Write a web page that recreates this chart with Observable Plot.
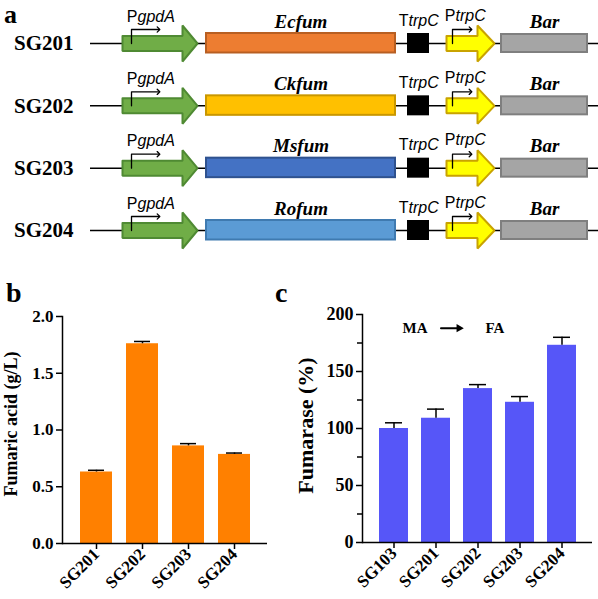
<!DOCTYPE html>
<html><head><meta charset="utf-8">
<script src="https://cdn.jsdelivr.net/npm/d3@7"></script>
<script src="https://cdn.jsdelivr.net/npm/@observablehq/plot@0.6"></script>
<style>
body{margin:0;background:#fff}
#fig{position:relative;width:598px;height:599px;overflow:hidden;background:#fff}
.panel{position:absolute}
.letter{position:absolute;font:bold 28px/1 "Liberation Serif",serif;color:#000}
</style></head><body>
<div id="fig">
<div class="panel" id="pa" style="left:0;top:0;width:598px"></div>
<div class="panel" id="pb" style="left:0;top:260px;width:280px"></div>
<div class="panel" id="pc" style="left:270px;top:260px;width:328px"></div>
<div class="letter" style="left:4px;top:2px;font-size:26px">a</div>
<div class="letter" style="left:6px;top:279px">b</div>
<div class="letter" style="left:275px;top:279px">c</div>
</div>
<script>
// ---------- Panel a: expression cassettes ----------
const strains = ["SG201", "SG202", "SG203", "SG204"];
const fumGenes = ["Ecfum", "Ckfum", "Msfum", "Rofum"];
const constructLength = 508;               // schematic units
const promoterGpdA = {label: "gpdA", start: 32, end: 107};
const fumORF = {start: 116, end: 305};
const terminatorTrpC = {label: "trpC", start: 317, end: 339};
const promoterTrpC = {label: "trpC", start: 356, end: 404};
const markerBar = {label: "Bar", start: 411, end: 497};

// ---------- Panel b: fumaric acid titre ----------
const strainsB = ["SG201", "SG202", "SG203", "SG204"];
const faMean = [0.63, 1.76, 0.86, 0.785];
const faErr = [0.015, 0.02, 0.02, 0.012];
const faTicks = [0, 0.5, 1.0, 1.5, 2.0];

// ---------- Panel c: fumarase activity ----------
const strainsC = ["SG103", "SG201", "SG202", "SG203", "SG204"];
const fumMean = [100, 109, 135, 123, 173];
const fumErr = [5, 8, 3.5, 5, 7];
const fumTicks = [0, 50, 100, 150, 200];
const fumMinorTicks = [25, 75, 125, 175];

// ===== styles =====
const geneFill = ["#ED7D31", "#FFC000", "#4472C4", "#5B9BD5"];
const geneStroke = ["#B85F22", "#C99700", "#2F528F", "#3F7AB0"];
const serif = "Liberation Serif, Times New Roman, serif";
const sans = "Liberation Sans, Arial, sans-serif";

// ===== Panel a =====
{
  const rowPx = (230 - 43) / 3;
  const u = px => px / rowPx;           // pixel offset -> row units
  const rows = strains.map((s, i) => ({strain: s, gene: fumGenes[i], row: i}));
  const arrowPoly = (p, headLen, bh, hh) => rows.flatMap(r => {
    const b = p.end - headLen;
    return [[p.start, -bh], [b, -bh], [b, -hh], [p.end, 0], [b, hh], [b, bh], [p.start, bh], [p.start, -bh]]
      .map(([x, d]) => ({x, y: r.row + u(d), row: r.row}));
  });
  const bent = (x0, x1) => rows.flatMap(r => [
    {x: x0, y: r.row, row: r.row}, {x: x0, y: r.row + u(-14), row: r.row}, {x: x1, y: r.row + u(-14), row: r.row}
  ]);
  const lbl = {fontFamily: sans, fontSize: 16, lineAnchor: "bottom"};
  const marks = [
    Plot.ruleY(rows, {y: "row", x1: 0, x2: constructLength, stroke: "black", strokeWidth: 1.5}),
    Plot.line(arrowPoly(promoterGpdA, 15, 7.5, 18), {x: "x", y: "y", z: "row", fill: "#70AD47", stroke: "#4F8A33", strokeWidth: 2, strokeLinejoin: "miter"}),
    Plot.line(arrowPoly(promoterTrpC, 17, 7.5, 18), {x: "x", y: "y", z: "row", fill: "#FFFF00", stroke: "#C9A300", strokeWidth: 2, strokeLinejoin: "miter"}),
    ...rows.map((r, i) => Plot.rect([r], {x1: () => fumORF.start, x2: () => fumORF.end, y1: d => d.row - u(10), y2: d => d.row + u(9.5), fill: geneFill[i], stroke: geneStroke[i], strokeWidth: 2})),
    Plot.rect(rows, {x1: () => terminatorTrpC.start, x2: () => terminatorTrpC.end, y1: d => d.row - u(10), y2: d => d.row + u(10), fill: "black"}),
    Plot.rect(rows, {x1: () => markerBar.start, x2: () => markerBar.end, y1: d => d.row - u(9), y2: d => d.row + u(9), fill: "#A5A5A5", stroke: "#7F7F7F", strokeWidth: 2}),
    Plot.line(bent(promoterGpdA.start + 9, promoterGpdA.start + 36), {x: "x", y: "y", z: "row", stroke: "black", strokeWidth: 1.3, markerEnd: "arrow"}),
    Plot.line(bent(promoterTrpC.start + 6, promoterTrpC.start + 24), {x: "x", y: "y", z: "row", stroke: "black", strokeWidth: 1.3, markerEnd: "arrow"}),
    // strain names
    Plot.text(rows, {x: () => 0, y: "row", text: "strain", dx: -17, textAnchor: "end", lineAnchor: "middle", fontFamily: serif, fontWeight: "bold", fontSize: 21}),
    // gene names
    Plot.text(rows, {x: () => (fumORF.start + fumORF.end) / 2, y: "row", text: "gene", dy: -16, lineAnchor: "bottom", fontFamily: serif, fontWeight: "bold", fontStyle: "italic", fontSize: 19}),
    Plot.text(rows, {x: () => (markerBar.start + markerBar.end) / 2, y: "row", text: () => markerBar.label, dy: -16, lineAnchor: "bottom", fontFamily: serif, fontWeight: "bold", fontStyle: "italic", fontSize: 19}),
    // PgpdA
    Plot.text(rows, {...lbl, x: () => promoterGpdA.start + 15, y: "row", text: () => "P", dy: -22, textAnchor: "end"}),
    Plot.text(rows, {...lbl, x: () => promoterGpdA.start + 15, y: "row", text: () => promoterGpdA.label, dy: -22, textAnchor: "start", fontStyle: "italic"}),
    // TtrpC
    Plot.text(rows, {...lbl, x: () => terminatorTrpC.start + 1, y: "row", text: () => "T", dy: -18, textAnchor: "end"}),
    Plot.text(rows, {...lbl, x: () => terminatorTrpC.start + 1, y: "row", text: () => terminatorTrpC.label, dy: -18, textAnchor: "start", fontStyle: "italic"}),
    // PtrpC
    Plot.text(rows, {...lbl, x: () => promoterTrpC.start + 9, y: "row", text: () => "P", dy: -23, textAnchor: "end"}),
    Plot.text(rows, {...lbl, x: () => promoterTrpC.start + 9, y: "row", text: () => promoterTrpC.label, dy: -23, textAnchor: "start", fontStyle: "italic"})
  ];
  document.getElementById("pa").append(Plot.plot({
    width: 598, height: 255, marginLeft: 90, marginRight: 0, marginTop: 43, marginBottom: 25,
    style: {background: "transparent", overflow: "visible"},
    x: {domain: [0, constructLength], axis: null},
    y: {domain: [0, 3], range: [43, 230], axis: null},
    marks
  }));
}

// ===== Panel b =====
const bold = {fontWeight: "bold", fontFamily: serif};
{
  const data = strainsB.map((s, i) => ({strain: s, mean: faMean[i], err: faErr[i]}));
  document.getElementById("pb").append(Plot.plot({
    width: 280, height: 339, marginLeft: 62, marginRight: 13, marginTop: 56, marginBottom: 56,
    style: {fontFamily: serif, fontWeight: "bold", background: "transparent", overflow: "visible", color: "black"},
    x: {type: "band", domain: strainsB, paddingInner: 0.315, paddingOuter: 0.34},
    y: {domain: [0, 2]},
    marks: [
      Plot.barY(data, {x: "strain", y: "mean", fill: "#FF8000"}),
      Plot.ruleX(data, {x: "strain", y1: "mean", y2: d => d.mean + d.err, stroke: "black", strokeWidth: 1.5}),
      Plot.tickY(data, {x: "strain", y: d => d.mean + d.err, stroke: "black", strokeWidth: 1.5, insetLeft: 8, insetRight: 8}),
      Plot.axisY({...bold, ticks: faTicks, tickFormat: d3.format(".1f"), tickSize: 6, tickPadding: 3, fontSize: 17, strokeWidth: 1.5, label: null}),
      Plot.axisX({...bold, tickRotate: -45, tickSize: 6, tickPadding: 2, fontSize: 17, strokeWidth: 1.5, label: null}),
      Plot.ruleY([0], {strokeWidth: 1.5}),
      Plot.frame({anchor: "left", strokeWidth: 1.5}),
      Plot.text(["Fumaric acid (g/L)"], {...bold, frameAnchor: "left", textAnchor: "middle", rotate: -90, dx: -51, dy: -6, fontSize: 18})
    ]
  }));
}

// ===== Panel c =====
{
  const data = strainsC.map((s, i) => ({strain: s, mean: fumMean[i], err: fumErr[i]}));
  document.getElementById("pc").append(Plot.plot({
    width: 328, height: 339, marginLeft: 92, marginRight: 6, marginTop: 54, marginBottom: 57,
    style: {fontFamily: serif, fontWeight: "bold", background: "transparent", overflow: "visible", color: "black"},
    x: {type: "band", domain: strainsC, paddingInner: 0.318, paddingOuter: 0.38},
    y: {domain: [0, 200]},
    marks: [
      Plot.barY(data, {x: "strain", y: "mean", fill: "#5656F8"}),
      Plot.ruleX(data, {x: "strain", y1: "mean", y2: d => d.mean + d.err, stroke: "black", strokeWidth: 1.5}),
      Plot.tickY(data, {x: "strain", y: d => d.mean + d.err, stroke: "black", strokeWidth: 1.5, insetLeft: 6, insetRight: 6}),
      Plot.axisY({...bold, ticks: fumTicks, tickSize: 6, tickPadding: 3, fontSize: 18, strokeWidth: 1.5, label: null}),
      Plot.axisY({ticks: fumMinorTicks, tickFormat: () => "", tickSize: 5, strokeWidth: 1.5, label: null}),
      Plot.axisX({...bold, tickRotate: -45, tickSize: 6, tickPadding: 2, fontSize: 17, strokeWidth: 1.5, label: null}),
      Plot.ruleY([0], {strokeWidth: 1.5}),
      Plot.frame({anchor: "left", strokeWidth: 1.5}),
      Plot.text(["Fumarase (%)"], {...bold, frameAnchor: "left", textAnchor: "middle", rotate: -90, dx: -57, dy: -3, fontSize: 22}),
      // MA -> FA annotation
      Plot.text(["MA"], {...bold, x: () => "SG103", y: () => 188, dx: 21, fontSize: 15}),
      Plot.arrow([0], {x1: () => "SG201", x2: () => "SG202", y1: () => 188, y2: () => 188, insetStart: 5, insetEnd: 19, headLength: 0, strokeWidth: 2, stroke: "black"}),
      Plot.dot([0], {x: () => "SG202", y: () => 188, dx: -19, symbol: "triangle2", rotate: 90, r: 4, fill: "black"}),
      Plot.text(["FA"], {...bold, x: () => "SG202", y: () => 188, dx: 17, fontSize: 15})
    ]
  }));
}
</script>
</body></html>
